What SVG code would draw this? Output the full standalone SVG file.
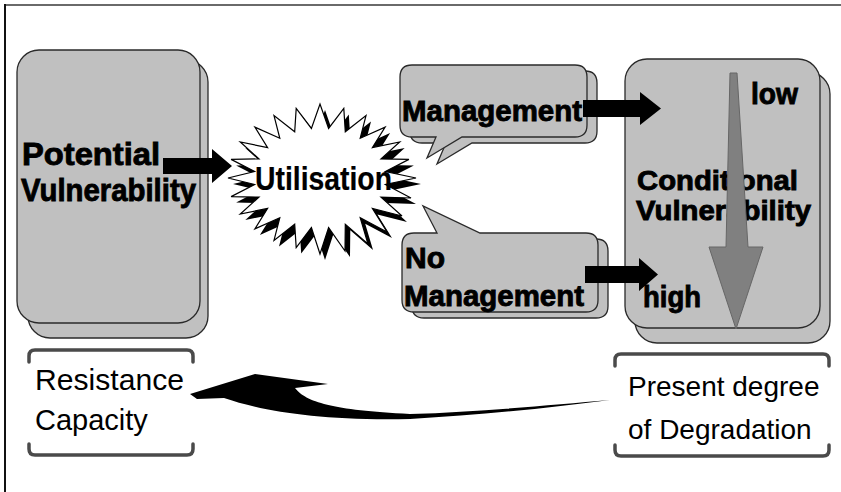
<svg xmlns="http://www.w3.org/2000/svg" width="841" height="492" viewBox="0 0 841 492">
<defs>
<style>
.card{fill:#c0c0c0;stroke:#2a2a2a;stroke-width:1.3}
.bt{font-family:"Liberation Sans",Arial,sans-serif;font-weight:bold;fill:#000;stroke:#000;stroke-width:0.9}
.rt{font-family:"Liberation Sans",Arial,sans-serif;font-weight:normal;fill:#000}
.br{fill:none;stroke:#4a4a4a;stroke-width:3.5;stroke-linecap:round;stroke-linejoin:round}
.blk{fill:#000}
</style>
</defs>
<rect x="0" y="0" width="841" height="492" fill="#fff"/>
<g id="frame">
<line x1="5" y1="5" x2="841" y2="5" stroke="#6a6a6a" stroke-width="2"/>
<line x1="5" y1="4" x2="5" y2="492" stroke="#111" stroke-width="2"/>
</g>
<g id="node-potential">
<rect class="card" x="28" y="60" width="180" height="278" rx="22"/>
<rect class="card" x="17" y="50" width="183" height="273" rx="22"/>
<text class="bt" x="22" y="165" font-size="32" textLength="138" lengthAdjust="spacingAndGlyphs">Potential</text>
<text class="bt" x="21" y="201" font-size="32" textLength="175" lengthAdjust="spacingAndGlyphs">Vulnerability</text>
</g>
<g id="node-utilisation">
<polygon transform="translate(5,6)" fill="#000" points="416,178 385.4,184.5 411,198 381,197.1 402,216 372.4,208.4 387,232 360.2,217.7 368,244 345.3,224.2 345,251 328.6,227.6 320,254 311.4,227.6 296.2,247.5 294.7,224.2 274,240.4 279.8,217.7 254.9,228.9 267.6,208.4 240.3,214 259,197.1 231.1,196.6 254.6,184.5 228,178 254.6,171.5 231.1,159.4 259,158.9 240.3,142 267.6,147.6 254.9,127.1 279.8,138.3 274,115.6 294.7,131.8 296.2,108.5 311.4,128.4 320,104 328.6,128.4 343.8,108.5 345.3,131.8 366,115.6 360.2,138.3 385.1,127.1 372.4,147.6 399.7,142 381,158.9 408.9,159.4 385.4,171.5"/>
<polygon fill="#fff" stroke="#000" stroke-width="1.2" points="416,178 385.4,184.5 411,198 381,197.1 402,216 372.4,208.4 387,232 360.2,217.7 368,244 345.3,224.2 345,251 328.6,227.6 320,254 311.4,227.6 296.2,247.5 294.7,224.2 274,240.4 279.8,217.7 254.9,228.9 267.6,208.4 240.3,214 259,197.1 231.1,196.6 254.6,184.5 228,178 254.6,171.5 231.1,159.4 259,158.9 240.3,142 267.6,147.6 254.9,127.1 279.8,138.3 274,115.6 294.7,131.8 296.2,108.5 311.4,128.4 320,104 328.6,128.4 343.8,108.5 345.3,131.8 366,115.6 360.2,138.3 385.1,127.1 372.4,147.6 399.7,142 381,158.9 408.9,159.4 385.4,171.5"/>
<text class="bt" x="255" y="190" font-size="33" textLength="137" lengthAdjust="spacingAndGlyphs" style="stroke-width:0.2">Utilisation</text>
</g>
<g id="node-management">
<path class="card" transform="translate(10,6)" d="M412 65 H575 Q587 65 587 77 V125 Q587 137 575 137 H462 L427 158 L436 137 H412 Q400 137 400 125 V77 Q400 65 412 65 Z"/>
<path class="card" d="M412 65 H575 Q587 65 587 77 V125 Q587 137 575 137 H462 L427 158 L436 137 H412 Q400 137 400 125 V77 Q400 65 412 65 Z"/>
<text class="bt" x="402" y="121" font-size="30" textLength="180" lengthAdjust="spacingAndGlyphs">Management</text>
</g>
<g id="node-nomanagement">
<path class="card" transform="translate(10,6)" d="M414 233 H437 L423 206 L480 233 H586 Q598 233 598 245 V300 Q598 312 586 312 H414 Q402 312 402 300 V245 Q402 233 414 233 Z"/>
<path class="card" d="M414 233 H437 L423 206 L480 233 H586 Q598 233 598 245 V300 Q598 312 586 312 H414 Q402 312 402 300 V245 Q402 233 414 233 Z"/>
<text class="bt" x="405" y="268" font-size="30">No</text>
<text class="bt" x="404" y="306" font-size="30" textLength="180" lengthAdjust="spacingAndGlyphs">Management</text>
</g>
<g id="node-conditional">
<rect class="card" x="635" y="72" width="195" height="271" rx="22"/>
<rect class="card" x="625" y="59" width="195" height="269" rx="22"/>
<text class="bt" x="751" y="104" font-size="30" textLength="47" lengthAdjust="spacingAndGlyphs">low</text>
<text class="bt" x="637" y="190" font-size="28" textLength="161" lengthAdjust="spacingAndGlyphs">Conditional</text>
<text class="bt" x="636" y="220" font-size="28" textLength="175" lengthAdjust="spacingAndGlyphs">Vulnerability</text>
<text class="bt" x="643" y="307" font-size="30" textLength="58" lengthAdjust="spacingAndGlyphs">high</text>
<path d="M730 73 L737 73 L748 247 L763 247 L736 329 L709 247 L726 247 Z" fill="#808080" stroke="#666" stroke-width="1"/>
</g>
<g id="node-resistance">
<path class="br" d="M29 362 V356 Q29 350 35 350 H187 Q193 350 193 356 V362"/>
<path class="br" d="M29 444 V449 Q29 455 35 455 H187 Q193 455 193 449 V444"/>
<text class="rt" x="35" y="390" font-size="29" textLength="149" lengthAdjust="spacingAndGlyphs">Resistance</text>
<text class="rt" x="35" y="430" font-size="29">Capacity</text>
</g>
<g id="node-degradation">
<path class="br" d="M615 366 V360 Q615 354 621 354 H823 Q829 354 829 360 V366"/>
<path class="br" d="M615 445 V450 Q615 456 621 456 H823 Q829 456 829 450 V445"/>
<text class="rt" x="628" y="396" font-size="28">Present degree</text>
<text class="rt" x="628" y="439" font-size="28">of Degradation</text>
</g>
<g id="connectors">
<polygon class="blk" points="163,158 212,158 212,149 232,166 212,183 212,174 163,174"/>
<polygon class="blk" points="583,100 640,100 640,92 661,108.5 640,125 640,117 583,117"/>
<polygon class="blk" points="585,266 639,266 639,258 658,274.5 639,291 639,283 585,283"/>
<path class="blk" d="M190 394 L255 374 L328 384 L295 388 C306 402 332 410 410 414 C480 412 550 405 610 400 C550 408 480 415 410 419 C320 421 262 411 224 398 L197 399 Z"/>
</g>
</svg>
